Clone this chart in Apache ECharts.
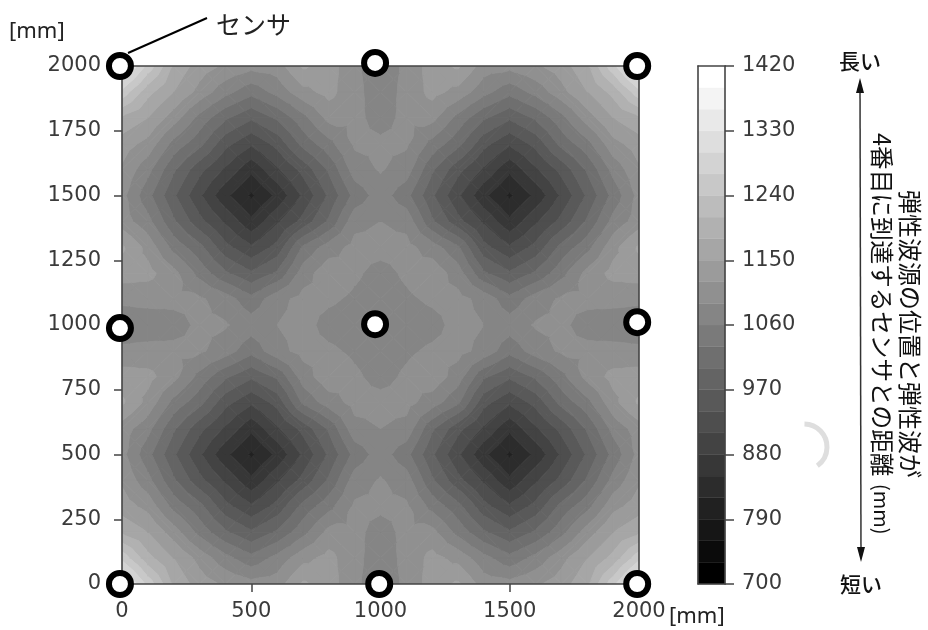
<!DOCTYPE html>
<html><head><meta charset="utf-8">
<style>html,body{margin:0;padding:0;background:#fff}#c{width:928px;height:630px}</style>
<script src="https://cdn.jsdelivr.net/npm/echarts@6/dist/echarts.min.js"></script>
</head><body><div id="c"></div>
<script>
const xNodes=[0,100,200,300,400,500,600,700,800,900,1000,1100,1200,1300,1400,1500,1600,1700,1800,1900,2000];
const yNodes=[0,100,200,300,400,500,600,700,800,900,1000,1100,1200,1300,1400,1500,1600,1700,1800,1900,2000];
const r00=[1355,1260,1175,1135,1115,1100,1105,1155,1135,1095,1075,1095,1135,1155,1105,1100,1115,1135,1175,1260,1355];
const r01=[1260,1190,1150,1110,1070,1040,1070,1110,1130,1098,1075,1098,1130,1110,1070,1040,1070,1110,1150,1190,1260];
const r02=[1175,1150,1105,1050,1005,975,1005,1050,1100,1097,1080,1097,1100,1050,1005,975,1005,1050,1105,1150,1175];
const r03=[1135,1110,1050,1010,950,915,950,1010,1050,1095,1095,1095,1050,1010,950,915,950,1010,1050,1110,1135];
const r04=[1115,1070,1005,950,905,857,905,950,1005,1075,1093,1075,1005,950,905,857,905,950,1005,1070,1115];
const r05=[1100,1040,975,915,857,815,857,915,975,1040,1075,1040,975,915,857,815,857,915,975,1040,1100];
const r06=[1105,1070,1005,950,905,857,905,950,1005,1080,1090,1080,1005,950,905,857,905,950,1005,1070,1105];
const r07=[1155,1110,1050,1010,950,915,950,1035,1075,1100,1100,1100,1075,1035,950,915,950,1010,1050,1110,1155];
const r08=[1135,1130,1100,1050,1005,975,1005,1075,1110,1095,1080,1095,1110,1075,1005,975,1005,1050,1100,1130,1135];
const r09=[1095,1098,1097,1095,1075,1040,1080,1100,1095,1085,1075,1085,1095,1100,1080,1040,1075,1095,1097,1098,1095];
const r10=[1075,1075,1080,1095,1093,1075,1090,1100,1080,1075,1075,1075,1080,1100,1090,1075,1093,1095,1080,1075,1075];
const r11=[1095,1098,1097,1095,1075,1040,1080,1100,1095,1085,1075,1085,1095,1100,1080,1040,1075,1095,1097,1098,1095];
const r12=[1135,1130,1100,1050,1005,975,1005,1075,1110,1095,1080,1095,1110,1075,1005,975,1005,1050,1100,1130,1135];
const r13=[1155,1110,1050,1010,950,915,950,1035,1075,1100,1100,1100,1075,1035,950,915,950,1010,1050,1110,1155];
const r14=[1105,1070,1005,950,905,857,905,950,1005,1080,1090,1080,1005,950,905,857,905,950,1005,1070,1105];
const r15=[1100,1040,975,915,857,815,857,915,975,1040,1075,1040,975,915,857,815,857,915,975,1040,1100];
const r16=[1115,1070,1005,950,905,857,905,950,1005,1075,1093,1075,1005,950,905,857,905,950,1005,1070,1115];
const r17=[1135,1110,1050,1010,950,915,950,1010,1050,1095,1095,1095,1050,1010,950,915,950,1010,1050,1110,1135];
const r18=[1175,1150,1105,1050,1005,975,1005,1050,1100,1097,1080,1097,1100,1050,1005,975,1005,1050,1105,1150,1175];
const r19=[1260,1190,1150,1110,1070,1040,1070,1110,1130,1098,1075,1098,1130,1110,1070,1040,1070,1110,1150,1190,1260];
const r20=[1355,1260,1175,1135,1115,1100,1105,1155,1135,1095,1075,1095,1135,1155,1105,1100,1115,1135,1175,1260,1355];
const rows=[r00,r01,r02,r03,r04,r05,r06,r07,r08,r09,r10,r11,r12,r13,r14,r15,r16,r17,r18,r19,r20];
const sensorX=[-8,979,1993,-8,979,1993,-8,995,1993];
const sensorY=[2000,2012,2000,988,1003,1011,0,0,0];
const levels=[700,730,760,790,820,850,880,910,940,970,1000,1030,1060,1090,1120,1150,1180,1210,1240,1270,1300,1330,1360,1390,1420];
const labelSensor='センサ', labelLong='長い', labelShort='短い', labelUnit='[mm]';
const labelCol1='4番目に到達するセンサとの距離', labelCol1Unit='(mm)', labelCol2='弾性波源の位置と弾性波が';

const nBands=levels.length-1;
const grayOf=k=>{const g=Math.round(k/(nBands-1)*255);return 'rgb('+g+','+g+','+g+')';};
const cells=[];
for(let r=0;r<yNodes.length-1;r++)for(let c=0;c<xNodes.length-1;c++){
  cells.push([xNodes[c],yNodes[r],xNodes[c+1],yNodes[r+1],rows[r][c],rows[r][c+1],rows[r+1][c],rows[r+1][c+1]]);
}
function clip(poly,t,sign){
  const out=[];
  for(let i=0;i<poly.length;i++){
    const a=poly[i],b=poly[(i+1)%poly.length];
    const ia=sign*(a[2]-t)>=0, ib=sign*(b[2]-t)>=0;
    if(ia)out.push(a);
    if(ia!==ib){const f=(t-a[2])/(b[2]-a[2]);out.push([a[0]+f*(b[0]-a[0]),a[1]+f*(b[1]-a[1]),t]);}
  }
  return out;
}
function renderCell(params,api){
  const x0=api.value(0),y0=api.value(1),x1=api.value(2),y1=api.value(3);
  const v00=api.value(4),v10=api.value(5),v01=api.value(6),v11=api.value(7);
  const a=api.coord([x0,y0]),b=api.coord([x1,y0]),d=api.coord([x0,y1]),e=api.coord([x1,y1]);
  const P=[a[0],a[1],v00],Q=[b[0],b[1],v10],R=[e[0],e[1],v11],S=[d[0],d[1],v01];
  const C=[(a[0]+e[0])/2,(a[1]+e[1])/2,(v00+v10+v01+v11)/4];
  const children=[];
  [[P,Q,C],[Q,R,C],[R,S,C],[S,P,C]].forEach(tri=>{
    for(let k=0;k<nBands;k++){
      const lo=levels[k],hi=levels[k+1];
      const vs=tri.map(p=>p[2]);
      if(Math.max.apply(null,vs)<lo||Math.min.apply(null,vs)>hi)continue;
      let poly=clip(tri,lo,1); if(poly.length<3)continue;
      poly=clip(poly,hi,-1); if(poly.length<3)continue;
      const col=grayOf(k);
      children.push({type:'polygon',shape:{points:poly.map(p=>[p[0],p[1]])},style:{fill:col,stroke:col,lineWidth:1},silent:true});
    }
  });
  return {type:'group',children};
}
function renderBand(params,api){
  const k=api.value(0);
  const p0=api.coord([0,api.value(2)]),p1=api.coord([1,api.value(1)]);
  return {type:'rect',shape:{x:p0[0],y:p0[1],width:p1[0]-p0[0],height:p1[1]-p0[1]},style:{fill:grayOf(k),stroke:grayOf(k),lineWidth:0.4},silent:true};
}
const plain=v=>String(v);
const tickFont={color:'#3a3a3a',fontSize:21,fontFamily:'DejaVu Sans',formatter:plain};
const line={show:true,lineStyle:{color:'#444',width:1.6}};
const tick={show:true,length:8,lineStyle:{color:'#444',width:1.5}};
const off={show:false};
const jp='"Noto Sans CJK JP"';
const chart=echarts.init(document.getElementById('c'),null,{renderer:'canvas'});
chart.setOption({
  animation:false,backgroundColor:'#fff',
  grid:[{left:122,top:66,width:517,height:518},{left:698,top:66,width:27,height:518}],
  xAxis:[
   {gridIndex:0,type:'value',min:0,max:2000,interval:500,position:'bottom',z:3,axisLine:{...line,onZero:false},axisTick:tick,axisLabel:{...tickFont,margin:17,hideOverlap:false,showMinLabel:true,showMaxLabel:true},splitLine:off},
   {gridIndex:0,type:'value',min:0,max:2000,position:'top',z:3,axisLine:{...line,onZero:false},axisTick:off,axisLabel:off,splitLine:off},
   {gridIndex:1,type:'value',min:0,max:1,position:'bottom',z:3,axisLine:{...line,onZero:false},axisTick:off,axisLabel:off,splitLine:off},
   {gridIndex:1,type:'value',min:0,max:1,position:'top',z:3,axisLine:{...line,onZero:false},axisTick:off,axisLabel:off,splitLine:off}
  ],
  yAxis:[
   {gridIndex:0,type:'value',min:0,max:2000,interval:250,position:'left',z:3,axisLine:{...line,onZero:false},axisTick:tick,axisLabel:{...tickFont,margin:21,padding:[3,0,0,0]},splitLine:off},
   {gridIndex:0,type:'value',min:0,max:2000,position:'right',z:3,axisLine:{...line,onZero:false},axisTick:off,axisLabel:off,splitLine:off},
   {gridIndex:1,type:'value',min:700,max:1420,interval:90,position:'right',z:3,axisLine:{...line,onZero:false},axisTick:{...tick,length:9},axisLabel:{...tickFont,margin:17,padding:[3,0,0,0]},splitLine:off},
   {gridIndex:1,type:'value',min:700,max:1420,position:'left',z:3,axisLine:{...line,onZero:false},axisTick:off,axisLabel:off,splitLine:off}
  ],
  series:[
   {type:'custom',xAxisIndex:0,yAxisIndex:0,renderItem:renderCell,data:cells,encode:{x:[0,2],y:[1,3]},clip:true,silent:true,z:1},
   {type:'custom',xAxisIndex:2,yAxisIndex:2,renderItem:renderBand,data:levels.slice(0,-1).map((l,k)=>[k,l,levels[k+1]]),encode:{y:[1,2]},silent:true,z:1},
   {type:'scatter',xAxisIndex:0,yAxisIndex:0,data:sensorX.map((x,i)=>[x,sensorY[i]]),symbol:'circle',symbolSize:22,clip:false,silent:true,z:5,
    itemStyle:{color:'#fff',borderColor:'#000',borderWidth:6,opacity:1}}
  ],
  graphic:[
   {type:'line',z:10,shape:{x1:207,y1:18,x2:128,y2:53},style:{stroke:'#000',lineWidth:2}},
   {type:'text',z:10,x:216,y:24,style:{text:labelSensor,fontFamily:jp,fontSize:25,fill:'#222',align:'left',verticalAlign:'middle'}},
   {type:'text',z:10,x:9,y:32,style:{text:labelUnit,fontFamily:'"Noto Sans"',fontSize:22,fill:'#222',align:'left',verticalAlign:'middle'}},
   {type:'text',z:10,x:669,y:617,style:{text:labelUnit,fontFamily:'"Noto Sans"',fontSize:22,fill:'#222',align:'left',verticalAlign:'middle'}},
   {type:'text',z:10,x:860,y:61,style:{text:labelLong,fontFamily:jp,fontSize:21,fontWeight:500,fill:'#111',align:'center',verticalAlign:'middle'}},
   {type:'text',z:10,x:861,y:584,style:{text:labelShort,fontFamily:jp,fontSize:21,fontWeight:500,fill:'#111',align:'center',verticalAlign:'middle'}},
   {type:'line',z:10,shape:{x1:860,y1:84,x2:861,y2:556},style:{stroke:'#333',lineWidth:1.5}},
   {type:'polygon',z:10,shape:{points:[[860,78],[856,93],[864,93]]},style:{fill:'#111'}},
   {type:'polygon',z:10,shape:{points:[[861,562],[857,547],[865,547]]},style:{fill:'#111'}},
   {type:'text',z:10,x:882,y:133,rotation:-Math.PI/2,style:{text:labelCol1,fontFamily:jp,fontSize:23.6,fill:'#111',align:'left',verticalAlign:'middle'}},
   {type:'text',z:10,x:882,y:484,rotation:-Math.PI/2,style:{text:labelCol1Unit,fontFamily:jp,fontSize:20,fill:'#111',align:'left',verticalAlign:'middle'}},
   {type:'text',z:10,x:910,y:190,rotation:-Math.PI/2,style:{text:labelCol2,fontFamily:jp,fontSize:24,fill:'#111',align:'left',verticalAlign:'middle'}},
   {type:'arc',z:10,shape:{cx:804,cy:447,r:23,startAngle:-1.55,endAngle:0.95},style:{stroke:'#dedede',fill:'none',lineWidth:5}}
  ]
});
</script></body></html>
